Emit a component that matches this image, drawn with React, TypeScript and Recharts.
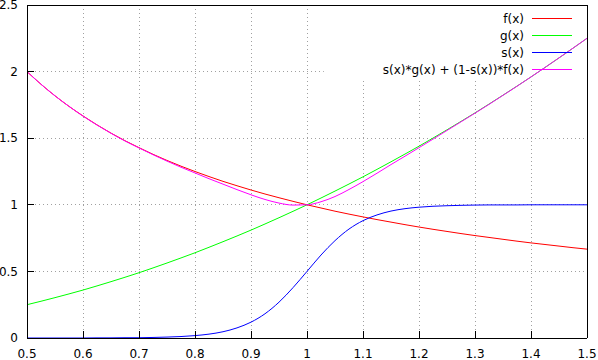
import { LineChart, Line, XAxis, YAxis, CartesianGrid, Legend, ReferenceArea } from 'recharts';

const xs = [
  0.5, 0.525, 0.55, 0.575, 0.6, 0.625, 0.65, 0.675, 0.7, 0.725, 0.75, 0.775, 0.8, 0.825, 0.85, 0.875,
  0.9, 0.925, 0.95, 0.975, 1.0, 1.025, 1.05, 1.075, 1.1, 1.125, 1.15, 1.175, 1.2, 1.225, 1.25, 1.275,
  1.3, 1.325, 1.35, 1.375, 1.4, 1.425, 1.45, 1.475, 1.5,
];

const fVals = [
  2.0, 1.905, 1.818, 1.739, 1.667, 1.6, 1.538, 1.481, 1.429, 1.379, 1.333, 1.29, 1.25, 1.212, 1.176, 1.143,
  1.111, 1.081, 1.053, 1.026, 1.0, 0.976, 0.952, 0.93, 0.909, 0.889, 0.87, 0.851, 0.833, 0.816, 0.8, 0.784,
  0.769, 0.755, 0.741, 0.727, 0.714, 0.702, 0.69, 0.678, 0.667,
];

const gVals = [
  0.25, 0.276, 0.303, 0.331, 0.36, 0.391, 0.423, 0.456, 0.49, 0.526, 0.563, 0.601, 0.64, 0.681, 0.723, 0.766,
  0.81, 0.856, 0.903, 0.951, 1.0, 1.051, 1.103, 1.156, 1.21, 1.266, 1.323, 1.381, 1.44, 1.501, 1.563, 1.626,
  1.69, 1.756, 1.823, 1.891, 1.96, 2.031, 2.103, 2.176, 2.25,
];

const sVals = [
  0.0, 0.0, 0.0, 0.0, 0.0, 0.001, 0.001, 0.002, 0.002, 0.004, 0.007, 0.011, 0.018, 0.029, 0.047, 0.076,
  0.119, 0.182, 0.269, 0.378, 0.5, 0.623, 0.731, 0.818, 0.881, 0.924, 0.953, 0.971, 0.982, 0.989, 0.993, 0.996,
  0.998, 0.999, 0.999, 0.999, 1.0, 1.0, 1.0, 1.0, 1.0,
];

const mVals = [
  2.0, 1.905, 1.818, 1.739, 1.666, 1.599, 1.537, 1.479, 1.427, 1.376, 1.328, 1.282, 1.239, 1.196, 1.155, 1.114,
  1.075, 1.04, 1.013, 0.998, 1.0, 1.023, 1.062, 1.115, 1.174, 1.237, 1.302, 1.365, 1.429, 1.493, 1.558, 1.623,
  1.688, 1.754, 1.822, 1.89, 1.96, 2.031, 2.103, 2.176, 2.25,
];

const xTicks = [0.5, 0.6, 0.7, 0.8, 0.9, 1.0, 1.1, 1.2, 1.3, 1.4, 1.5];
const yTicks = [0, 0.5, 1, 1.5, 2, 2.5];

const seriesNames = ['f(x)', 'g(x)', 's(x)', 's(x)*g(x) + (1-s(x))*f(x)'];
const seriesKeys = ['f', 'g', 's', 'm'];
const seriesColors = ['#ff0000', '#00ff00', '#0000ff', '#ff00ff'];

const data = xs.map((x, i) => ({ x, f: fVals[i], g: gVals[i], s: sVals[i], m: mVals[i] }));

const font = '"DejaVu Sans", sans-serif';
const tickFont = { fontFamily: font, fontSize: 12, fill: '#000' };
const lineStyle = { stroke: '#000', shapeRendering: 'crispEdges' };

function KeyBox() {
  return (
    <div style={{ fontFamily: font, fontSize: 12, color: '#000' }}>
      {seriesNames.map((name, i) => (
        <div
          key={name}
          style={{ display: 'flex', justifyContent: 'flex-end', alignItems: 'center', height: 17 }}
        >
          <span style={{ whiteSpace: 'nowrap' }}>{name}</span>
          <svg width={40} height={3} style={{ marginLeft: 8, display: 'block' }}>
            <line x1={0} y1={1.5} x2={40} y2={1.5} stroke={seriesColors[i]} strokeWidth={1} />
          </svg>
        </div>
      ))}
    </div>
  );
}

export default function App() {
  return (
    <div style={{ position: 'absolute', left: 0, top: 0, background: '#fff' }}>
      <LineChart width={598} height={360} data={data} margin={{ top: 5, right: 11, bottom: 0, left: 0 }}>
        <CartesianGrid stroke="#a0a0a0" strokeDasharray="1 3" shapeRendering="crispEdges" />
        <ReferenceArea x1={1.03} x2={1.5} y1={1.94} y2={2.5} fill="#fff" fillOpacity={1} stroke="none" />
        <XAxis
          dataKey="x"
          type="number"
          domain={[0.5, 1.5]}
          ticks={xTicks}
          height={22}
          tick={tickFont}
          tickSize={-7}
          tickMargin={18}
          axisLine={lineStyle}
          tickLine={lineStyle}
          interval={0}
        />
        <XAxis
          xAxisId="top"
          dataKey="x"
          type="number"
          orientation="top"
          mirror
          domain={[0.5, 1.5]}
          ticks={xTicks}
          tick={false}
          tickSize={7}
          axisLine={lineStyle}
          tickLine={lineStyle}
          interval={0}
        />
        <YAxis
          type="number"
          domain={[0, 2.5]}
          ticks={yTicks}
          width={27}
          tick={tickFont}
          tickSize={-7}
          tickMargin={16}
          axisLine={lineStyle}
          tickLine={lineStyle}
          interval={0}
        />
        <YAxis
          yAxisId="right"
          type="number"
          orientation="right"
          mirror
          domain={[0, 2.5]}
          ticks={yTicks}
          tick={false}
          tickSize={7}
          axisLine={lineStyle}
          tickLine={lineStyle}
          interval={0}
        />
        <Legend
          layout="horizontal"
          align="center"
          verticalAlign="middle"
          wrapperStyle={{ top: 10, left: 330, width: 242 }}
          content={() => <KeyBox />}
        />
        {seriesKeys.map((k, i) => (
          <Line
            key={k}
            dataKey={k}
            name={seriesNames[i]}
            type="monotone"
            stroke={seriesColors[i]}
            strokeWidth={1}
            dot={false}
            isAnimationActive={false}
          />
        ))}
      </LineChart>
    </div>
  );
}
